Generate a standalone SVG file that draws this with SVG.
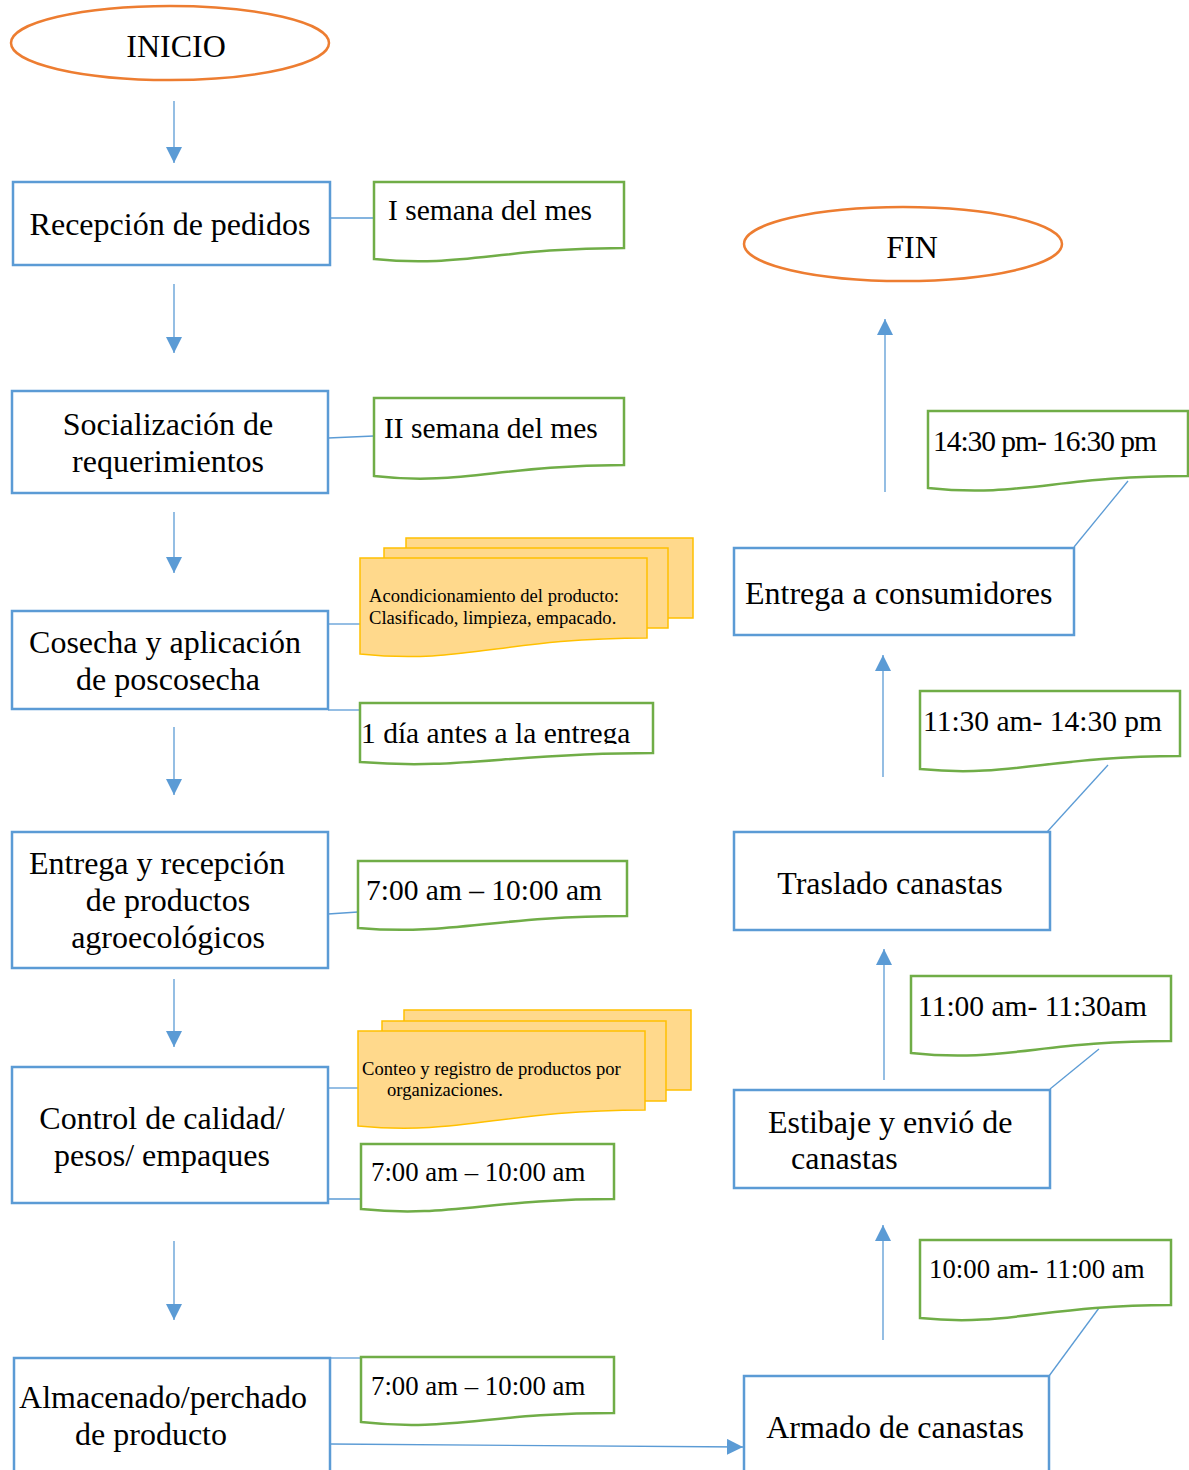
<svg xmlns="http://www.w3.org/2000/svg" width="1189" height="1470" viewBox="0 0 1189 1470">
<style>
.box{fill:#fff;stroke:#5B9BD5;stroke-width:2.5}
.term{fill:#fff;stroke:#ED7D31;stroke-width:2.5}
.doc{fill:#fff;stroke:#70AD47;stroke-width:2.5}
.ydoc{fill:#FFD98C;stroke:#FFC000;stroke-width:1.5}
.t{font-family:"Liberation Serif","Times New Roman",serif;font-size:32px;fill:#000}
.s{font-family:"Liberation Serif","Times New Roman",serif;font-size:29.5px;fill:#000}
.s2{font-family:"Liberation Serif","Times New Roman",serif;font-size:26.8px;fill:#000}
.y{font-family:"Liberation Serif","Times New Roman",serif;font-size:18.6px;fill:#000}
.c{fill:none;stroke:#5B9BD5;stroke-width:1.3}
.a{fill:none;stroke:#5B9BD5;stroke-width:1.3;marker-end:url(#ah)}
</style>
<defs>
<marker id="ah" markerUnits="userSpaceOnUse" markerWidth="16" markerHeight="18" viewBox="0 0 16 18" refX="16" refY="8" orient="auto">
<path d="M0,0 L16,8 L0,16 Z" fill="#5B9BD5"/>
</marker>
<clipPath id="clip1"><rect x="355" y="700" width="300" height="44"/></clipPath>
</defs>

<g id="connectors">
<line class="a" x1="174" y1="101" x2="174" y2="163"/>
<line class="a" x1="174" y1="284" x2="174" y2="353"/>
<line class="a" x1="174" y1="512" x2="174" y2="573"/>
<line class="a" x1="174" y1="727" x2="174" y2="795"/>
<line class="a" x1="174" y1="979" x2="174" y2="1047"/>
<line class="a" x1="174" y1="1241" x2="174" y2="1320"/>
<line class="a" x1="330" y1="1444" x2="743" y2="1447"/>
<line class="a" x1="883" y1="1340" x2="883" y2="1225"/>
<line class="a" x1="884" y1="1080" x2="884" y2="949"/>
<line class="a" x1="883" y1="777" x2="883" y2="655"/>
<line class="a" x1="885" y1="492" x2="885" y2="319"/>
<line class="c" x1="330" y1="218" x2="374" y2="218"/>
<line class="c" x1="328" y1="438" x2="374" y2="436"/>
<line class="c" x1="328" y1="624" x2="360" y2="624"/>
<line class="c" x1="328" y1="710" x2="360" y2="710"/>
<line class="c" x1="328" y1="914" x2="358" y2="912"/>
<line class="c" x1="328" y1="1088" x2="358" y2="1088"/>
<line class="c" x1="328" y1="1199" x2="361" y2="1199"/>
<line class="c" x1="330" y1="1358" x2="360" y2="1358"/>
<line class="c" x1="1049" y1="1376" x2="1099" y2="1308"/>
<line class="c" x1="1050" y1="1089" x2="1099" y2="1049"/>
<line class="c" x1="1047" y1="832" x2="1108" y2="765"/>
<line class="c" x1="1074" y1="547" x2="1128" y2="481"/>
</g>

<g id="inicio">
<ellipse class="term" cx="170" cy="43" rx="159" ry="37"/>
<text class="t" x="176" y="57" text-anchor="middle">INICIO</text>
</g>

<g id="recepcion">
<rect class="box" x="13" y="182" width="317" height="83"/>
<text class="t" x="170" y="235" text-anchor="middle">Recepción de pedidos</text>
</g>
<g id="doc-semana1">
<path class="doc" d="M374,182 H624 V248 C499,248 461,268 374,259 Z"/>
<text class="s" x="388" y="220">I semana del mes</text>
</g>

<g id="socializacion">
<rect class="box" x="12" y="391" width="316" height="102"/>
<text class="t" x="168" y="435" text-anchor="middle">Socialización de</text>
<text class="t" x="168" y="472" text-anchor="middle">requerimientos</text>
</g>
<g id="doc-semana2">
<path class="doc" d="M374,398 H624 V465 C499,465 461,486 374,476 Z"/>
<text class="s" x="384" y="438">II semana del mes</text>
</g>

<g id="acondicionamiento">
<path class="ydoc" d="M406,538 H693 V618 H406 Z"/>
<path class="ydoc" d="M384,548 H668 V628 H384 Z"/>
<path class="ydoc" d="M360,558 H647 V638 C503,638 463,665 360,654 Z"/>
<text class="y" x="369" y="602">Acondicionamiento del producto:</text>
<text class="y" x="369" y="624">Clasificado, limpieza, empacado.</text>
</g>

<g id="cosecha">
<rect class="box" x="12" y="611" width="316" height="98"/>
<text class="t" x="165" y="653" text-anchor="middle">Cosecha y aplicación</text>
<text class="t" x="168" y="690" text-anchor="middle">de poscosecha</text>
</g>
<g id="doc-dia">
<path class="doc" d="M360,703 H653 V753 C507,753 463,770 360,762 Z"/>
<text class="s" x="361" y="743" clip-path="url(#clip1)">1 día antes a la entrega</text>
</g>

<g id="entrega-recepcion">
<rect class="box" x="12" y="832" width="316" height="136"/>
<text class="t" x="157" y="874" text-anchor="middle">Entrega y recepción</text>
<text class="t" x="168" y="911" text-anchor="middle">de productos</text>
<text class="t" x="168" y="948" text-anchor="middle">agroecológicos</text>
</g>
<g id="doc-7a">
<path class="doc" d="M358,861 H627 V916 C492,916 452,936 358,928 Z"/>
<text class="s" x="366" y="900">7:00 am – 10:00 am</text>
</g>

<g id="conteo">
<path class="ydoc" d="M404,1010 H691 V1090 H404 Z"/>
<path class="ydoc" d="M382,1021 H666 V1101 H382 Z"/>
<path class="ydoc" d="M358,1031 H645 V1110 C501,1110 461,1136 358,1126 Z"/>
<text class="y" x="362" y="1075">Conteo y registro de productos por</text>
<text class="y" x="387" y="1096">organizaciones.</text>
</g>

<g id="control">
<rect class="box" x="12" y="1067" width="316" height="136"/>
<text class="t" x="162" y="1129" text-anchor="middle">Control de calidad/</text>
<text class="t" x="162" y="1166" text-anchor="middle">pesos/ empaques</text>
</g>
<g id="doc-7b">
<path class="doc" d="M361,1144 H614 V1199 C487,1199 449,1218 361,1209 Z"/>
<text class="s2" x="371" y="1181">7:00 am – 10:00 am</text>
</g>

<g id="almacenado">
<rect class="box" x="14" y="1358" width="316" height="130"/>
<text class="t" x="163" y="1408" text-anchor="middle">Almacenado/perchado</text>
<text class="t" x="151" y="1445" text-anchor="middle">de producto</text>
</g>
<g id="doc-7c">
<path class="doc" d="M361,1357 H614 V1413 C487,1413 449,1432 361,1422 Z"/>
<text class="s2" x="371" y="1395">7:00 am – 10:00 am</text>
</g>

<g id="armado">
<rect class="box" x="744" y="1376" width="305" height="110"/>
<text class="t" x="895" y="1438" text-anchor="middle">Armado de canastas</text>
</g>
<g id="doc-10">
<path class="doc" d="M920,1240 H1171 V1305 C1045,1305 1008,1327 920,1318 Z"/>
<text class="s2" x="929" y="1278">10:00 am- 11:00 am</text>
</g>

<g id="estibaje">
<rect class="box" x="734" y="1090" width="316" height="98"/>
<text class="t" x="768" y="1133">Estibaje y envió de</text>
<text class="t" x="791" y="1169">canastas</text>
</g>
<g id="doc-11">
<path class="doc" d="M911,976 H1171 V1041 C1041,1041 1002,1063 911,1053 Z"/>
<text class="s" x="918" y="1016">11:00 am- 11:30am</text>
</g>

<g id="traslado">
<rect class="box" x="734" y="832" width="316" height="98"/>
<text class="t" x="890" y="894" text-anchor="middle">Traslado canastas</text>
</g>
<g id="doc-1130">
<path class="doc" d="M920,691 H1180 V756 C1050,756 1011,778 920,769 Z"/>
<text class="s" x="923" y="731">11:30 am- 14:30 pm</text>
</g>

<g id="entrega-consumidores">
<rect class="box" x="734" y="548" width="340" height="87"/>
<text class="t" x="745" y="604">Entrega a consumidores</text>
</g>
<g id="doc-1430">
<path class="doc" d="M928,411 H1188 V476 C1058,476 1019,498 928,488 Z"/>
<text class="s" x="933" y="451" textLength="224">14:30 pm- 16:30 pm</text>
</g>

<g id="fin">
<ellipse class="term" cx="903" cy="244" rx="159" ry="37"/>
<text class="t" x="912" y="258" text-anchor="middle">FIN</text>
</g>
</svg>
